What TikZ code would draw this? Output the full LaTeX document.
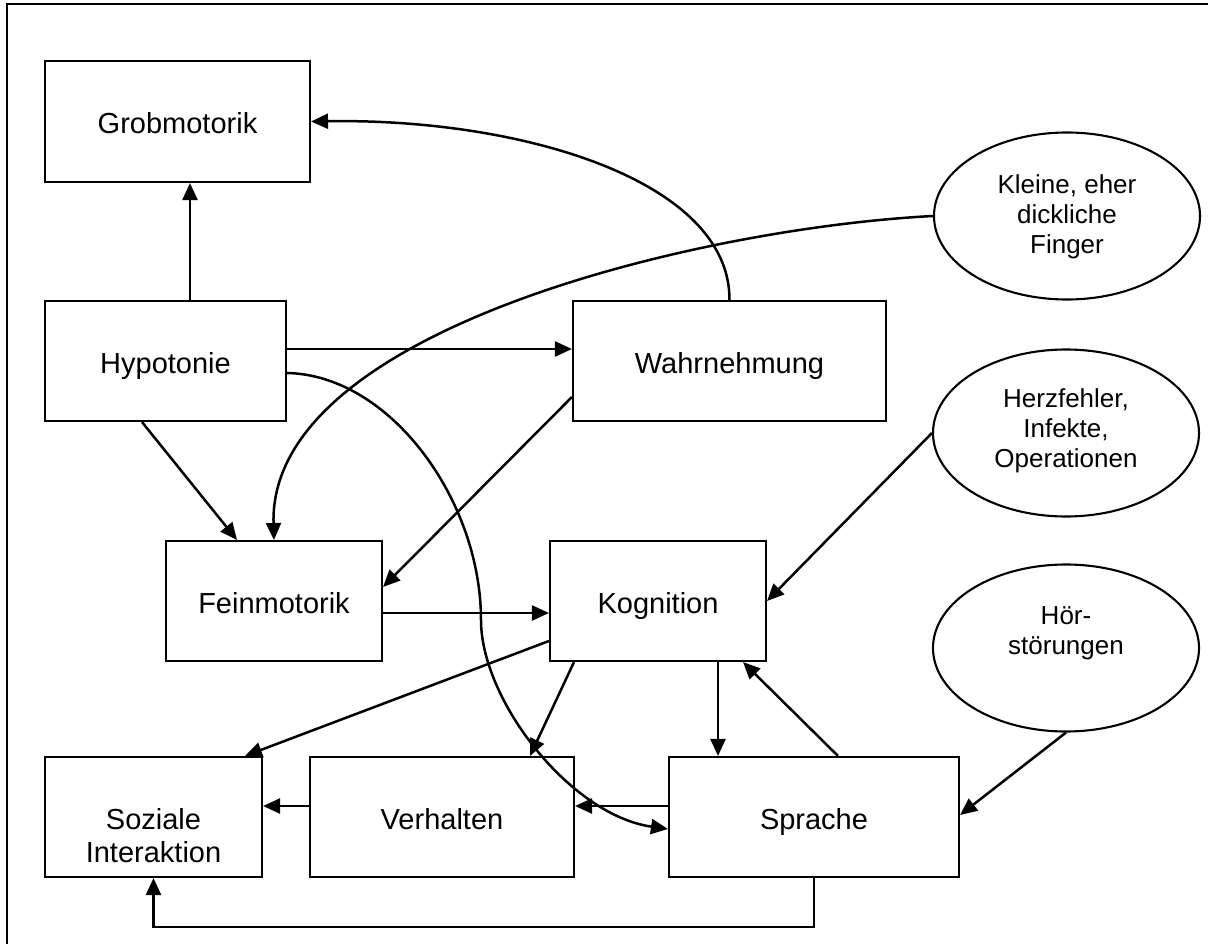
\documentclass[tikz,border=0pt]{standalone}
\usepackage{fontspec}
\setmainfont{Liberation Sans}
\usetikzlibrary{arrows.meta,shapes.geometric}
\begin{document}
\begin{tikzpicture}[x=1pt,y=-1pt,
  box/.style={draw, line width=2.1pt, inner sep=0pt, font=\fontsize{29}{33}\selectfont, align=center, text height=24pt, text depth=0pt},
  oval/.style={draw, ellipse, line width=2.1pt, inner sep=0pt, minimum width=266pt, minimum height=167pt},
  otxt/.style={font=\fontsize{26}{30}\selectfont, align=center, inner sep=0pt},
  btxt/.style={font=\fontsize{29}{33}\selectfont, align=center, inner sep=0pt},
  conn/.style={line width=2.5pt, -{Triangle[length=17pt,width=15pt]}},
  plain/.style={line width=2.5pt}]
\useasboundingbox (0,0) rectangle (1208,944);
% frame
\draw[line width=2.2pt] (7,960) -- (7,4) -- (1220,4);

% boxes
\node[box, minimum width=265pt, minimum height=121pt] (grob) at (177.5,121.5) {Grobmotorik};
\node[box, minimum width=241pt, minimum height=120pt] (hyp) at (165.5,361) {Hypotonie};
\node[box, minimum width=313pt, minimum height=120pt] (wahr) at (729.5,361) {Wahrnehmung};
\node[box, minimum width=216pt, minimum height=120pt] (fein) at (274,601) {Feinmotorik};
\node[box, minimum width=216pt, minimum height=120pt] (kog) at (658,601) {Kognition};
\node[box, minimum width=217pt, minimum height=120pt] (soz) at (153.5,817) {};
\node[btxt] (soztxt) at (153.5,835.5) {Soziale\\Interaktion};
\node[box, minimum width=264pt, minimum height=120pt] (verh) at (442,817) {Verhalten};
\node[box, minimum width=290pt, minimum height=120pt] (spr) at (814,817) {Sprache};

% ellipses
\node[oval] (klein) at (1067,216) {};
\node[otxt] (kleintxt) at (1067,217) {Kleine, eher\\dickliche\\Finger};
\node[oval] (herz) at (1066,433) {};
\node[otxt] (herztxt) at (1066,431) {Herzfehler,\\Infekte,\\Operationen};
\node[oval] (hoer) at (1066,648) {};
\node[otxt] (hoertxt) at (1066,633) {Hör-\\störungen};

% connectors
\draw[conn] ([xshift=24.5pt]hyp.north) coordinate (h1) -- (h1 |- grob.south);
\draw[conn] (wahr.north) .. controls (730,180) and (520,118) .. (grob.east);
\draw[conn] ([yshift=12pt]hyp.east) coordinate (h2) -- (h2 -| wahr.west);
\draw[conn] (klein.west) .. controls (700,228) and (268,330) .. (fein.north);
\draw[conn] ([xshift=-23.5pt]hyp.south) -- ([xshift=-37pt]fein.north);
\draw[conn] ([yshift=-36pt]wahr.west) -- ([yshift=14pt]fein.east);
\draw[conn] ([yshift=-12pt]hyp.east) .. controls (390,375) and (481,500) .. (481,620)
  .. controls (481,700) and (570,815) .. ([yshift=-12pt]spr.west);
\draw[conn] ([yshift=-12pt]fein.east) coordinate (f1) -- (f1 -| kog.west);
\draw[conn] (herz.west) -- (kog.east);
\draw[conn] ([yshift=-40pt]kog.west) -- ([xshift=91.5pt]soz.north);
\draw[conn] ([xshift=-84pt]kog.south) -- ([xshift=88pt]verh.north);
\draw[conn] ([xshift=60pt]kog.south) coordinate (k1) -- (k1 |- spr.north);
\draw[conn] ([xshift=24pt]spr.north) -- ([xshift=85pt]kog.south);
\draw[conn] ([yshift=11pt]spr.west) coordinate (s1) -- (s1 -| verh.east);
\draw[conn] ([yshift=11pt]verh.west) coordinate (v1) -- (v1 -| soz.east);
\draw[conn] (hoer.south) -- ([yshift=2pt]spr.east);
\draw[conn] (spr.south) -- ++(0,49) -| (soz.south);
\end{tikzpicture}
\end{document}
